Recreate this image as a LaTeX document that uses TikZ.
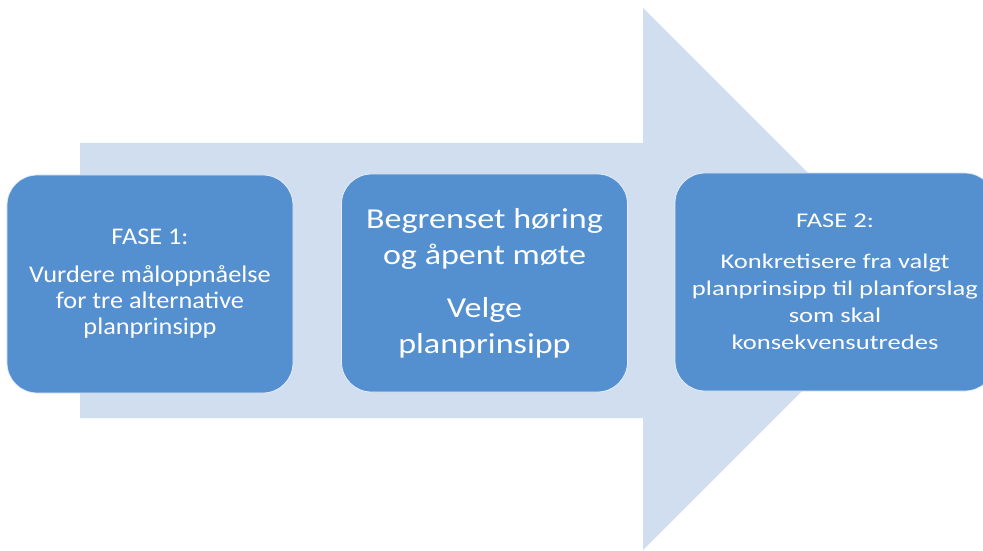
\documentclass[tikz,border=0pt]{standalone}
\usepackage{fontspec}
\setmainfont{Carlito}
\definecolor{arrowblue}{RGB}{209,222,239}
\definecolor{boxblue}{RGB}{84,143,208}
\tikzset{
  phase/.style={rectangle, rounded corners=30bp, fill=boxblue, draw=white!85!boxblue,
    line width=0.8bp, minimum width=286bp, minimum height=218bp, inner sep=0pt,
    text=white, align=center},
}
\newcommand{\boxfont}[3]{\fontsize{#1}{#2}\selectfont\addfontfeatures{FakeStretch=#3}}
\begin{document}
\begin{tikzpicture}[x=1bp,y=-1bp]
    \useasboundingbox (0,0) rectangle (983,551);
    % big arrow behind the boxes
    \fill[arrowblue] (80,143) -- (643,143) -- (643,8) -- (914,279) -- (643,550)
      -- (643,418) -- (80,418) -- cycle;
    \node[phase, font=\boxfont{24}{26}{1.1}] (fase1) at (150,284)
      {FASE 1:\\[12bp] Vurdere måloppnåelse\\ for tre alternative\\ planprinsipp};
    \node[phase, font=\boxfont{29}{36}{1.18}] (velge) at (484.5,283)
      {Begrenset høring\\ og åpent møte\\[17bp] Velge\\ planprinsipp};
    % right box runs past the page edge
    \node[phase, font=\boxfont{21}{27}{1.27}, minimum width=320bp] (fase2) at (835,282)
      {FASE 2:\\[14bp] Konkretisere fra valgt\\ planprinsipp til planforslag\\ som skal\\ konsekvensutredes};
  \end{tikzpicture}
\end{document}
